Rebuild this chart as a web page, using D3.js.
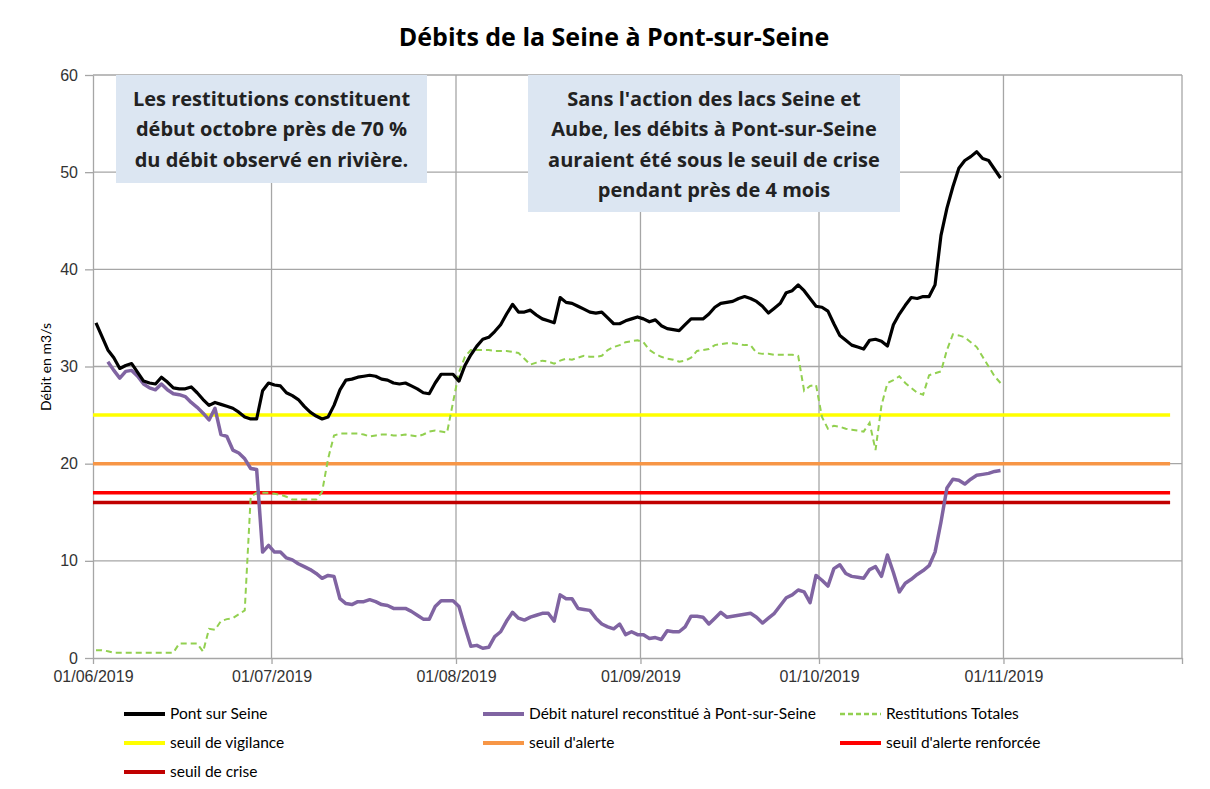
<!DOCTYPE html>
<html>
<head>
<meta charset="utf-8">
<script src="https://cdn.jsdelivr.net/npm/d3@7"></script>
<style>
    body { margin: 0; background: #fff; }
    svg { display: block; font-family: Lato, 'Open Sans', sans-serif; }
    .axis path, .axis line { stroke: #a6a6a6; stroke-width: 1.3; }
    .axis text { fill: #333; font-size: 16px; }
</style>
</head>
<body>
<svg id="chart" width="1210" height="789"></svg>
<script>
    'use strict';

    // daily values, from 01/06/2019 to 31/10/2019
    const startDate = new Date(2019, 5, 1);
    const pontSurSeine = [
        34.5, 33.1, 31.7, 30.9, 29.8, 30.1, 30.3, 29.4, 28.5, 28.3,
        28.2, 28.9, 28.4, 27.8, 27.7, 27.7, 27.9, 27.3, 26.6, 26.0,
        26.3, 26.1, 25.9, 25.7, 25.3, 24.8, 24.6, 24.6, 27.5, 28.3,
        28.1, 28.0, 27.3, 27.0, 26.6, 25.9, 25.3, 24.9, 24.6, 24.8,
        26.0, 27.6, 28.6, 28.7, 28.9, 29.0, 29.1, 29.0, 28.7, 28.6,
        28.3, 28.2, 28.3, 28.0, 27.7, 27.3, 27.2, 28.3, 29.2, 29.2,
        29.2, 28.5, 30.1, 31.2, 32.1, 32.8, 33.0, 33.6, 34.3, 35.4,
        36.4, 35.6, 35.6, 35.8, 35.3, 34.9, 34.7, 34.5, 37.1, 36.6,
        36.5, 36.2, 35.9, 35.6, 35.5, 35.6, 35.0, 34.4, 34.4, 34.7,
        34.9, 35.1, 34.9, 34.6, 34.8, 34.2, 33.9, 33.8, 33.7, 34.3,
        34.9, 34.9, 34.9, 35.4, 36.1, 36.5, 36.6, 36.7, 37.0, 37.2,
        37.0, 36.7, 36.2, 35.5, 36.0, 36.5, 37.6, 37.8, 38.4, 37.8,
        37.0, 36.2, 36.1, 35.7, 34.4, 33.2, 32.7, 32.2, 32.0, 31.8,
        32.7, 32.8, 32.6, 32.1, 34.3, 35.4, 36.3, 37.1, 37.0, 37.2,
        37.2, 38.4, 43.5, 46.3, 48.5, 50.4, 51.2, 51.6, 52.1, 51.4,
        51.2, 50.3, 49.4
    ];
    const debitNaturel = [
        null, null, 30.5, 29.6, 28.8, 29.5, 29.6, 29.0, 28.2, 27.8,
        27.6, 28.2, 27.6, 27.2, 27.1, 26.9, 26.3, 25.8, 25.2, 24.5,
        25.7, 23.0, 22.8, 21.4, 21.1, 20.5, 19.5, 19.4, 10.9, 11.6,
        10.9, 10.9, 10.3, 10.1, 9.7, 9.4, 9.1, 8.7, 8.2, 8.5,
        8.4, 6.1, 5.6, 5.5, 5.8, 5.8, 6.0, 5.8, 5.5, 5.4,
        5.1, 5.1, 5.1, 4.8, 4.4, 4.0, 4.0, 5.3, 5.9, 5.9,
        5.9, 5.3, 3.2, 1.2, 1.3, 1.0, 1.1, 2.2, 2.7, 3.8,
        4.7, 4.1, 3.9, 4.2, 4.4, 4.6, 4.6, 3.8, 6.5, 6.1,
        6.1, 5.1, 5.0, 4.9, 4.1, 3.5, 3.2, 3.0, 3.5, 2.4,
        2.7, 2.4, 2.4, 2.0, 2.1, 1.9, 2.8, 2.7, 2.7, 3.2,
        4.3, 4.3, 4.2, 3.5, 4.1, 4.7, 4.2, 4.3, 4.4, 4.5,
        4.6, 4.2, 3.6, 4.1, 4.6, 5.4, 6.2, 6.5, 7.0, 6.8,
        5.7, 8.5, 8.0, 7.4, 9.2, 9.6, 8.7, 8.4, 8.3, 8.2,
        9.1, 9.4, 8.4, 10.6, 8.8, 6.8, 7.7, 8.1, 8.6, 9.0,
        9.5, 10.9, 14.0, 17.5, 18.4, 18.3, 17.9, 18.4, 18.8, 18.9,
        19.0, 19.2, 19.3
    ];
    const restitutions = [
        0.8, 0.8, 0.7, 0.55, 0.55, 0.55, 0.55, 0.55, 0.55, 0.55,
        0.55, 0.55, 0.55, 0.55, 1.5, 1.5, 1.5, 1.5, 0.65, 3.0,
        2.9, 3.8, 4.0, 4.1, 4.5, 4.9, 16.6, 17.0, 17.0, 17.0,
        16.9, 16.8, 16.6, 16.3, 16.3, 16.3, 16.3, 16.3, 17.1, 20.5,
        22.9, 23.1, 23.1, 23.1, 23.1, 23.0, 22.8, 22.9, 23.0, 23.0,
        22.9, 22.9, 23.0, 22.9, 22.8, 23.0, 23.3, 23.4, 23.3, 23.2,
        26.3, 29.4, 31.0, 31.7, 31.7, 31.7, 31.7, 31.6, 31.6, 31.6,
        31.5, 31.4, 30.8, 30.2, 30.4, 30.6, 30.5, 30.3, 30.6, 30.8,
        30.7, 30.9, 31.1, 31.0, 31.0, 31.1, 31.7, 32.0, 32.2, 32.5,
        32.6, 32.7, 32.5, 31.7, 31.3, 31.0, 30.8, 30.7, 30.5, 30.6,
        30.9, 31.6, 31.7, 31.8, 32.2, 32.3, 32.4, 32.4, 32.3, 32.2,
        32.2, 31.4, 31.3, 31.3, 31.2, 31.2, 31.2, 31.2, 31.1, 27.5,
        28.0, 28.1, 24.8, 23.6, 23.9, 23.8, 23.6, 23.5, 23.4, 23.3,
        24.2, 21.4, 26.0, 28.3, 28.6, 29.0, 28.3, 27.8, 27.3, 27.1,
        29.1, 29.3, 29.5, 31.7, 33.3, 33.2, 33.0, 32.5, 32.0, 31.0,
        30.0, 29.0, 28.3
    ];

    // seuils (m3/s)
    const seuilNames = ["seuil de vigilance", "seuil d'alerte", "seuil d'alerte renforcée", "seuil de crise"];
    const seuilValues = [25, 20, 17, 16];
    const seuilColors = ["#ffff00", "#f79646", "#ff0000", "#c00000"];
    const seuilStart = new Date(2019, 5, 1);
    const seuilEnd = new Date(2019, 10, 29);

    const yTicks = [0, 10, 20, 30, 40, 50, 60];
    const monthTicks = [
        new Date(2019, 5, 1), new Date(2019, 6, 1), new Date(2019, 7, 1),
        new Date(2019, 8, 1), new Date(2019, 9, 1), new Date(2019, 10, 1), new Date(2019, 11, 1)
    ];

    const note1 = ["Les restitutions constituent", "début octobre près de 70 %", "du débit observé en rivière."];
    const note2 = ["Sans l'action des lacs Seine et", "Aube, les débits à Pont-sur-Seine",
        "auraient été sous le seuil de crise", "pendant près de 4 mois"];

    const svg = d3.select("#chart");
    const plot = { left: 93, right: 1182, top: 75, bottom: 658 };

    const x = d3.scaleTime()
        .domain([new Date(2019, 5, 1), new Date(2019, 11, 1)])
        .range([plot.left, plot.right]);
    const y = d3.scaleLinear().domain([0, 60]).range([plot.bottom, plot.top]);

    // points sit in the middle of their day
    const dayX = i => x(d3.timeHour.offset(d3.timeDay.offset(startDate, i), 12));

    svg.append("text")
        .attr("x", 614).attr("y", 46)
        .attr("text-anchor", "middle")
        .style("font-family", "'Open Sans', sans-serif")
        .style("font-size", "25px").style("font-weight", "bold")
        .text("Débits de la Seine à Pont-sur-Seine");

    // grid
    const grid = svg.append("g").attr("stroke", "#a6a6a6").attr("stroke-width", 1.3);
    grid.selectAll("line.h").data(yTicks.slice(1)).join("line")
        .attr("x1", plot.left).attr("x2", plot.right)
        .attr("y1", d => y(d)).attr("y2", d => y(d));
    grid.selectAll("line.v").data(monthTicks.slice(1)).join("line")
        .attr("x1", d => x(d)).attr("x2", d => x(d))
        .attr("y1", plot.top).attr("y2", plot.bottom);

    // axes
    const fmt = d3.timeFormat("%d/%m/%Y");
    svg.append("g").attr("class", "axis")
        .attr("transform", `translate(0,${plot.bottom})`)
        .call(d3.axisBottom(x).tickValues(monthTicks).tickSize(6).tickSizeOuter(0)
            .tickFormat(d => d < monthTicks[6] ? fmt(d) : ""))
        .call(g => g.selectAll("text").attr("dy", "0.95em"));
    svg.append("g").attr("class", "axis")
        .attr("transform", `translate(${plot.left},0)`)
        .call(d3.axisLeft(y).tickValues(yTicks).tickSize(8).tickSizeOuter(0).tickPadding(7));

    svg.append("text")
        .attr("transform", "translate(51,367) rotate(-90)")
        .attr("text-anchor", "middle")
        .style("font-size", "14px").style("fill", "#000")
        .text("Débit en m3/s");

    // notes
    function drawNote(lines, bx, by, bw, bh) {
        const g = svg.append("g");
        g.append("rect").attr("x", bx).attr("y", by).attr("width", bw).attr("height", bh)
            .attr("fill", "#dce6f2");
        g.selectAll("text").data(lines).join("text")
            .attr("x", bx + bw / 2)
            .attr("y", (d, i) => by + 31 + i * 30.3)
            .attr("text-anchor", "middle")
            .style("font-family", "'Open Sans', sans-serif")
            .style("font-size", "20px").style("font-weight", "bold").style("fill", "#222")
            .text(d => d);
    }
    drawNote(note1, 116, 75, 311, 108);
    drawNote(note2, 528, 75, 372, 137);

    // seuils
    svg.append("g").selectAll("line").data(seuilValues).join("line")
        .attr("x1", x(seuilStart)).attr("x2", x(seuilEnd))
        .attr("y1", d => y(d)).attr("y2", d => y(d))
        .attr("stroke", (d, i) => seuilColors[i])
        .attr("stroke-width", 3.5);

    const line = d3.line()
        .defined(d => d != null)
        .x((d, i) => dayX(i))
        .y(d => y(d));

    svg.append("path").attr("d", line(restitutions))
        .attr("fill", "none").attr("stroke", "#92d050")
        .attr("stroke-width", 2).attr("stroke-dasharray", "6,4");
    svg.append("path").attr("d", line(debitNaturel))
        .attr("fill", "none").attr("stroke", "#8064a2")
        .attr("stroke-width", 3.5).attr("stroke-linejoin", "round");
    svg.append("path").attr("d", line(pontSurSeine))
        .attr("fill", "none").attr("stroke", "#000")
        .attr("stroke-width", 3.2).attr("stroke-linejoin", "round");

    // legend
    const legendItems = [
        { name: "Pont sur Seine", color: "#000", dash: null, col: 0, row: 0 },
        { name: "Débit naturel reconstitué à Pont-sur-Seine", color: "#8064a2", dash: null, col: 1, row: 0 },
        { name: "Restitutions Totales", color: "#92d050", dash: "5,3", col: 2, row: 0 },
        { name: seuilNames[0], color: seuilColors[0], dash: null, col: 0, row: 1 },
        { name: seuilNames[1], color: seuilColors[1], dash: null, col: 1, row: 1 },
        { name: seuilNames[2], color: seuilColors[2], dash: null, col: 2, row: 1 },
        { name: seuilNames[3], color: seuilColors[3], dash: null, col: 0, row: 2 }
    ];
    const colX = [124, 483, 840];
    const legend = svg.append("g").selectAll("g").data(legendItems).join("g")
        .attr("transform", d => `translate(${colX[d.col]},${714 + d.row * 29})`);
    legend.append("line")
        .attr("x1", 0).attr("x2", 41)
        .attr("stroke", d => d.color)
        .attr("stroke-width", d => d.dash ? 2.5 : 4)
        .attr("stroke-dasharray", d => d.dash);
    legend.append("text")
        .attr("x", 46).attr("dy", "0.35em")
        .style("font-size", "15.5px").style("fill", "#000")
        .text(d => d.name);
</script>
</body>
</html>
